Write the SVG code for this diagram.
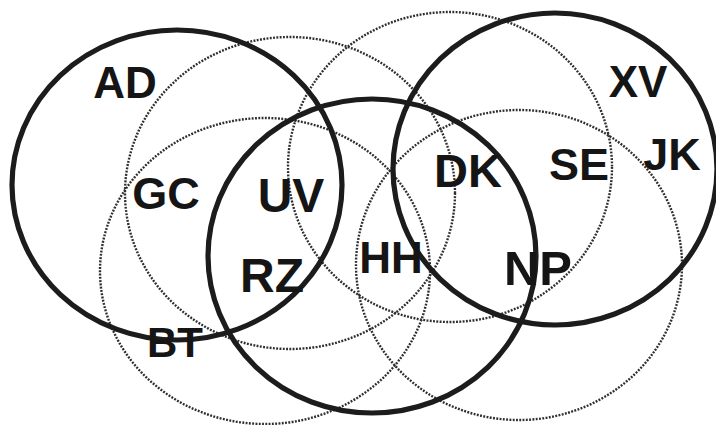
<svg xmlns="http://www.w3.org/2000/svg" width="716" height="425" viewBox="0 0 716 425">
<style>
.dot{fill:none;stroke:#2e2e2e;stroke-width:2.4;stroke-dasharray:1.9 1.4}
.sol{fill:none;stroke:#1c1c1c;stroke-width:5.2}
.lbl{font-family:"Liberation Sans",Arial,sans-serif;font-weight:bold;fill:#151515;text-anchor:middle}
</style>
<rect width="716" height="425" fill="#ffffff"/>
<g id="dotted-sets">
<ellipse id="d1" class="dot" cx="290" cy="193" rx="165" ry="156"/>
<ellipse id="d2" class="dot" cx="450" cy="167" rx="162" ry="155"/>
<ellipse id="d3" class="dot" cx="265" cy="271" rx="165" ry="153"/>
<ellipse id="d4" class="dot" cx="519" cy="265" rx="163" ry="155"/>
</g>
<g id="solid-sets">
<ellipse id="s1" class="sol" cx="177" cy="185" rx="165" ry="155"/>
<ellipse id="s2" class="sol" cx="372" cy="256" rx="164" ry="157"/>
<ellipse id="s3" class="sol" cx="555" cy="169" rx="162" ry="156"/>
</g>
<g id="AD"><text class="lbl" x="125" y="98" font-size="44">AD</text></g>
<g id="GC"><text class="lbl" x="166" y="209" font-size="45">GC</text></g>
<g id="UV"><text class="lbl" x="291" y="212" font-size="48">UV</text></g>
<g id="RZ"><text class="lbl" x="272" y="292" font-size="48">RZ</text></g>
<g id="HH"><text class="lbl" x="391" y="273" font-size="44">HH</text></g>
<g id="DK"><text class="lbl" x="468" y="187" font-size="47">DK</text></g>
<g id="SE"><text class="lbl" x="579" y="180" font-size="45">SE</text></g>
<g id="XV"><text class="lbl" x="638" y="97" font-size="44">XV</text></g>
<g id="JK"><text class="lbl" x="672" y="170" font-size="45">JK</text></g>
<g id="NP"><text class="lbl" x="538" y="285" font-size="49">NP</text></g>
<g id="BT"><text class="lbl" x="175" y="357" font-size="42">BT</text></g>
</svg>
